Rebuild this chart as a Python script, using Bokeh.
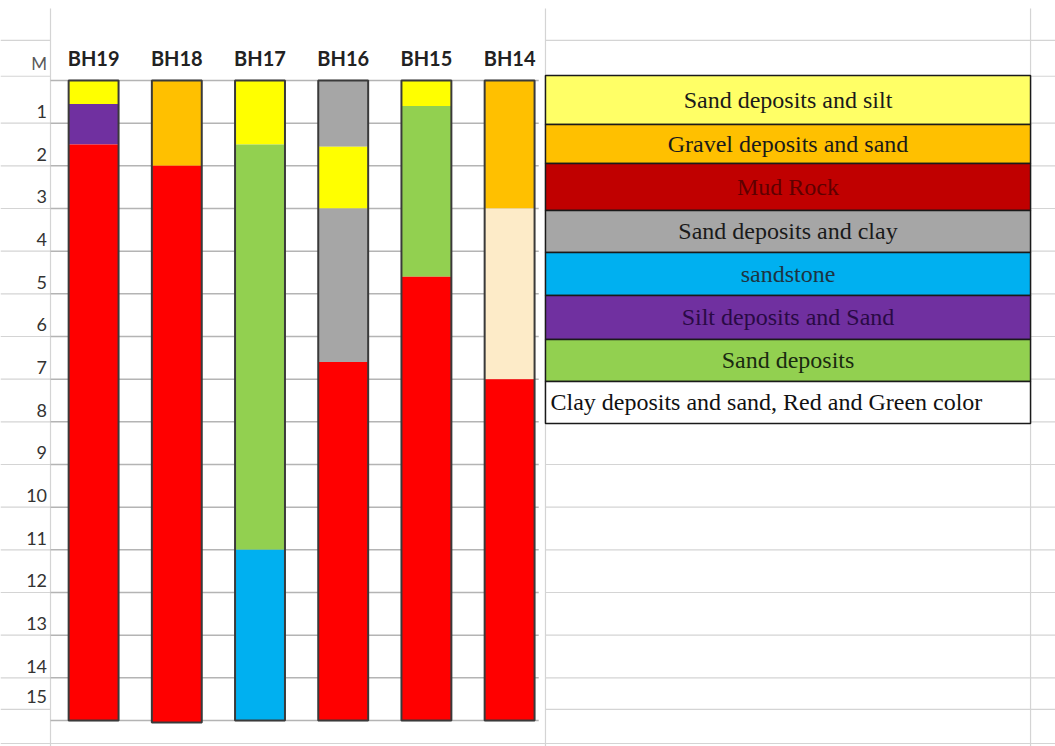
from bokeh.plotting import figure
from bokeh.models import Range1d
from bokeh.embed import file_html
from bokeh.resources import INLINE
from bokeh.core.properties import value

# ---------------- data ----------------
boreholes = ["BH19", "BH18", "BH17", "BH16", "BH15", "BH14"]
depth_labels = [str(k) for k in range(1, 16)]
depth_unit = "M"

materials = [
    "Sand deposits and silt",
    "Gravel deposits and sand",
    "Mud Rock",
    "Sand deposits and clay",
    "sandstone",
    "Silt deposits and Sand",
    "Sand deposits",
    "Clay deposits and sand, Red and Green color",
]

# layers of each borehole (depth in metres, top -> bottom)
layer_hole = ["BH19", "BH19", "BH19",
              "BH18", "BH18",
              "BH17", "BH17", "BH17",
              "BH16", "BH16", "BH16", "BH16",
              "BH15", "BH15", "BH15",
              "BH14", "BH14", "BH14"]
layer_top = [0.0, 0.55, 1.5,
             0.0, 2.0,
             0.0, 1.5, 11.0,
             0.0, 1.55, 3.0, 6.6,
             0.0, 0.6, 4.6,
             0.0, 3.0, 7.0]
layer_bottom = [0.55, 1.5, 15.0,
                2.0, 15.05,
                1.5, 11.0, 15.0,
                1.55, 3.0, 6.6, 15.0,
                0.6, 4.6, 15.0,
                3.0, 7.0, 15.0]
layer_material = ["Sand deposits and silt", "Silt deposits and Sand", "Mud Rock",
                  "Gravel deposits and sand", "Mud Rock",
                  "Sand deposits and silt", "Sand deposits", "sandstone",
                  "Sand deposits and clay", "Sand deposits and silt", "Sand deposits and clay", "Mud Rock",
                  "Sand deposits and silt", "Sand deposits", "Mud Rock",
                  "Gravel deposits and sand", "Clay deposits and sand, Red and Green color", "Mud Rock"]

# ---------------- styles ----------------
bar_fill = {
    "Sand deposits and silt": "#FFFF00",
    "Gravel deposits and sand": "#FFC000",
    "Mud Rock": "#FF0000",
    "Sand deposits and clay": "#A6A6A6",
    "sandstone": "#00B0F0",
    "Silt deposits and Sand": "#7030A0",
    "Sand deposits": "#92D050",
    "Clay deposits and sand, Red and Green color": "#FDEBC8",
}
legend_fill = ["#FFFF66", "#FFC000", "#C00000", "#A6A6A6",
               "#00B0F0", "#7030A0", "#92D050", "#FFFFFF"]
legend_text_color = ["#1a1a1a", "#1a1a1a", "#5E0000", "#1a1a1a",
                     "#1d3442", "#2a0a45", "#1a2a10", "#111111"]

# layout (data units: x = borehole index, y = depth in m)
X_LEFT, X_RIGHT = -1.119, 11.561
Y_TOP, Y_BOTTOM = -1.875, 15.61
BAR_HALF = 0.30
COL_A, COL_B, COL_C = -0.518, 5.431, 11.261       # sheet column lines
CHART_R = 5.35                                      # right end of chart lines
LEG_EDGES = [-0.117, 1.031, 1.945, 3.047, 4.031, 5.039, 6.07, 7.054, 8.04]
SHEET_ROWS_SIDE = [-0.94, -0.1] + list(range(1, 15)) + [14.74, 15.54]
CHART_ROWS = list(range(0, 16))

p = figure(width=1055, height=746, output_backend="svg", toolbar_location=None,
           x_range=Range1d(X_LEFT, X_RIGHT), y_range=Range1d(Y_BOTTOM, Y_TOP),
           x_axis_location=None, y_axis_location=None, min_border=0,
           outline_line_color=None, background_fill_color="white",
           border_fill_color="white")
p.xgrid.visible = False
p.ygrid.visible = False

# spreadsheet grid lines (left header column and right area)
sx0, sx1, sy = [], [], []
for r in SHEET_ROWS_SIDE:
    sx0 += [X_LEFT, COL_B]; sx1 += [COL_A, X_RIGHT]; sy += [r, r]
sx0.append(COL_A); sx1.append(COL_B); sy.append(15.54)
p.segment(x0=sx0, y0=sy, x1=sx1, y1=sy, line_color="#d4d4d4", line_width=1.2)
p.segment(x0=[COL_A, COL_B, COL_C], y0=[-1.69] * 3, x1=[COL_A, COL_B, COL_C],
          y1=[Y_BOTTOM] * 3, line_color="#d4d4d4", line_width=1.2)

# chart grid lines (each metre)
p.segment(x0=[COL_A] * len(CHART_ROWS), y0=CHART_ROWS,
          x1=[CHART_R] * len(CHART_ROWS), y1=CHART_ROWS,
          line_color="#b4b4b4", line_width=1.5)

# borehole layers
lx = [boreholes.index(h) for h in layer_hole]
p.quad(left=[x - BAR_HALF for x in lx], right=[x + BAR_HALF for x in lx],
       top=layer_top, bottom=layer_bottom,
       fill_color=[bar_fill[m] for m in layer_material], line_color=None)

# borehole outlines
hx = list(range(len(boreholes)))
h_top = [min(t for t, h in zip(layer_top, layer_hole) if h == b) for b in boreholes]
h_bot = [max(t for t, h in zip(layer_bottom, layer_hole) if h == b) for b in boreholes]
p.quad(left=[x - BAR_HALF for x in hx], right=[x + BAR_HALF for x in hx],
       top=h_top, bottom=h_bot, fill_color=None,
       line_color="#3a3a3a", line_width=2)

# borehole names
p.text(x=hx, y=[-0.52] * len(hx), text=boreholes,
       text_font=value("Lato"), text_font_style="bold", text_font_size="20px",
       text_align="center", text_baseline="middle", text_color="#222222")

# depth labels
ly = [k - 0.27 for k in range(1, 15)] + [14.74 - 0.3]
p.text(x=[-0.56] * len(depth_labels), y=ly, text=depth_labels,
       text_font=value("Lato"), text_font_size="18px",
       text_align="right", text_baseline="middle", text_color="#333333")
p.text(x=[-0.56], y=[-0.40], text=[depth_unit],
       text_font=value("Lato"), text_font_size="17px",
       text_align="right", text_baseline="middle", text_color="#595959")

# legend table
n = len(materials)
tops = LEG_EDGES[:-1]
bots = LEG_EDGES[1:]
p.quad(left=[COL_B] * n, right=[COL_C] * n, top=tops, bottom=bots,
       fill_color=legend_fill, line_color="#1a1a1a", line_width=1.5)
mid = [(t + b) / 2 for t, b in zip(tops, bots)]
cx = (COL_B + COL_C) / 2
p.text(x=[cx] * (n - 1), y=mid[:-1], text=materials[:-1],
       text_font=value("Liberation Serif"), text_font_size="24px",
       text_align="center", text_baseline="middle",
       text_color=legend_text_color[:-1])
p.text(x=[COL_B + 0.06], y=[mid[-1]], text=[materials[-1]],
       text_font=value("Liberation Serif"), text_font_size="24px",
       text_align="left", text_baseline="middle",
       text_color=legend_text_color[-1])

open("out.html", "w").write(file_html(p, INLINE))
